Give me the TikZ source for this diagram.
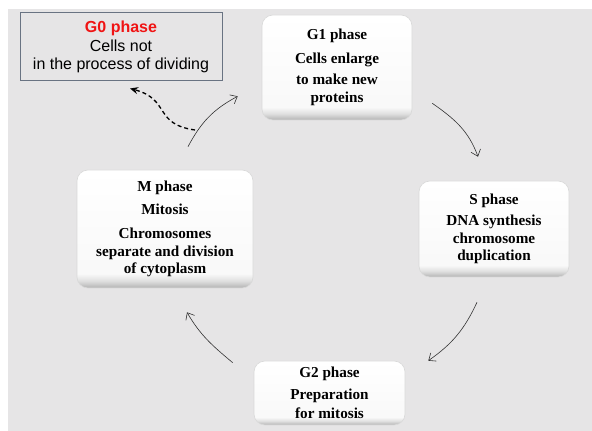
\documentclass[tikz,border=0pt]{standalone}
\usepackage{fontspec}
\setmainfont{Liberation Serif}
\newfontfamily\arialfont{Liberation Sans}
\usetikzlibrary{arrows.meta,positioning}

\definecolor{bggrey}{RGB}{230,229,230}
\definecolor{frameblue}{RGB}{105,115,130}
\definecolor{g0red}{RGB}{240,20,20}
\definecolor{arrowgrey}{RGB}{50,50,50}

\pgfdeclareverticalshading{phaseshade}{100bp}{color(0bp)=(gray!60); color(25bp)=(gray!60); color(28bp)=(gray!25); color(31bp)=(white!95!gray); color(75bp)=(white); color(100bp)=(white)}

\tikzstyle{phase} = [rectangle, rounded corners=11pt, align=center, draw=gray!30, line width=0.6pt, shading=phaseshade, font=\fontsize{15.2}{17.5}\selectfont\bfseries, inner sep=0pt]
\tikzstyle{restphase} = [rectangle, align=center, draw=frameblue, line width=1pt, fill=bggrey, font=\arialfont\fontsize{16}{18.5}\selectfont, inner sep=0pt]
\tikzstyle{cycarrow} = [-{Straight Barb[length=6pt,width=10pt]}, draw=arrowgrey, line width=0.6pt]
\tikzstyle{exitarrow} = [-{Stealth[length=8pt,width=7pt]}, line width=1.3pt, dash pattern=on 4pt off 3pt]

\begin{document}
\begin{tikzpicture}[x=1pt,y=1pt]

	\fill[white] (0,0) rectangle (592,431);
	\fill[bggrey] (8,0) rectangle (592,422);
	\useasboundingbox (0,0) rectangle (592,431);

	\node (g0) [restphase, minimum width=202pt, minimum height=68pt] at (121,384) {{\bfseries\color{g0red}G0 phase}\\ Cells not\\ in the process of dividing};
	\node (g1) [phase, minimum width=150pt, minimum height=105pt] at (337,363.5) {G1 phase\\[6pt] Cells enlarge\\[4pt] to make new\\ proteins};
	\node (s) [phase, minimum width=150pt, minimum height=96pt] at (494,202) {S phase\\[4pt] DNA synthesis\\ chromosome\\ duplication};
	\node (g2) [phase, minimum width=151pt, minimum height=64pt] at (329.5,38) {G2 phase\\[4pt] Preparation\\[2pt] for mitosis};
	\node (m) [phase, minimum width=176pt, minimum height=118pt] at (165,202) {M phase\\[5.5pt] Mitosis\\[6.5pt] Chromosomes\\ separate and division\\ of cytoplasm};

	\coordinate (exit) at (195,301);

	\draw [cycarrow] ([shift={(23pt,23pt)}]m.north) to[out=62,in=208] ([shift={(-24pt,24pt)}]g1.south west);
	\draw [cycarrow] ([shift={(20pt,17pt)}]g1.south east) to[out=-35,in=110] ([shift={(-16pt,24pt)}]s.north);
	\draw [cycarrow] ([shift={(-17pt,-25pt)}]s.south) to[out=-115,in=35] ([shift={(23pt,0pt)}]g2.north east);
	\draw [cycarrow] ([shift={(-21pt,-2pt)}]g2.north west) to[out=140,in=-60] ([shift={(22pt,-24pt)}]m.south);
	\draw [exitarrow] (exit) to[out=172,in=-15,looseness=1.4] ([shift={(9pt,-7pt)}]g0.south);

\end{tikzpicture}
\end{document}
